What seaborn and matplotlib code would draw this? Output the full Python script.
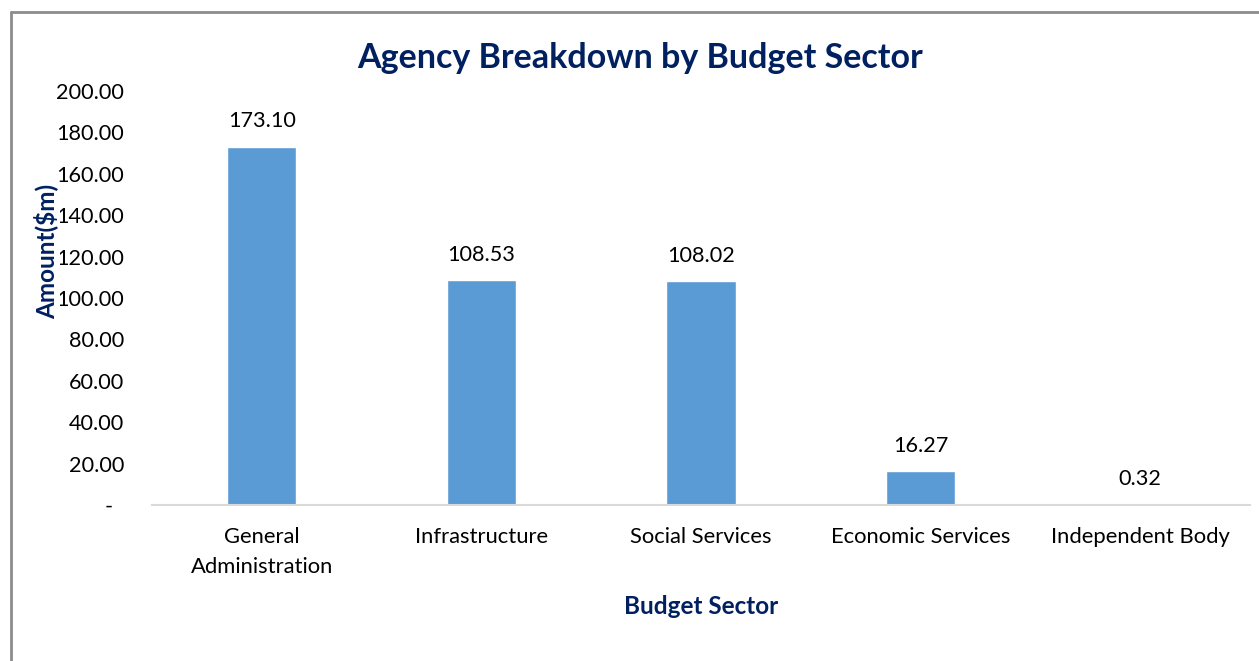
import matplotlib
matplotlib.use("Agg")
import matplotlib.pyplot as plt
import seaborn as sns
import pandas as pd
from matplotlib.ticker import FuncFormatter, MultipleLocator
from matplotlib.lines import Line2D

categories = ["General\nAdministration", "Infrastructure", "Social Services",
              "Economic Services", "Independent Body"]
values = [173.10, 108.53, 108.02, 16.27, 0.32]
title = "Agency Breakdown by Budget Sector"
xlabel = "Budget Sector"
ylabel = "Amount($m)"

sns.set_theme(style="white")
plt.rcParams["font.family"] = ["Lato", "DejaVu Sans"]

df = pd.DataFrame({"sector": categories, "amount": values})

fig = plt.figure(figsize=(12.59, 6.61), dpi=100)
ax = fig.add_axes([0.1207, 0.236, 0.8722, 0.6264])

sns.barplot(data=df, x="sector", y="amount", color="#5B9BD5", width=0.315,
            saturation=1, ax=ax)

ax.set_ylim(0, 200)
ax.set_xlim(-0.5, len(categories) - 0.5)
ax.yaxis.set_major_locator(MultipleLocator(20))
ax.yaxis.set_major_formatter(FuncFormatter(lambda v, p: "-  " if abs(v) < 1e-9 else f"{v:.2f}"))
ax.tick_params(axis="y", labelsize=15.6, length=0, pad=20, colors="#000000")
ax.tick_params(axis="x", labelsize=15.8, length=0, pad=16, colors="#000000")
for s in ["top", "right", "left"]:
    ax.spines[s].set_visible(False)
ax.spines["bottom"].set_color("#D9D9D9")
ax.spines["bottom"].set_linewidth(1.5)

for i, v in enumerate(values):
    ax.annotate(f"{v:.2f}", (i, v), xytext=(0, 11), textcoords="offset points",
                ha="center", va="bottom", fontsize=15.6, color="#000000")

ax.set_xlabel(xlabel, fontsize=17.5, fontweight="bold", color="#002060", labelpad=13)
ax.set_ylabel("")
fig.text(0.0365, 0.62, ylabel, rotation=90, ha="center", va="center", fontsize=17.5,
         fontweight="bold", color="#002060",
         bbox=dict(facecolor="white", edgecolor="none", pad=1))
fig.text(0.508, 0.913, title, ha="center", va="center", fontsize=24.5,
         fontweight="bold", color="#002060")

fig.add_artist(Line2D([11/1259, 11/1259], [0, 1 - 12/661], transform=fig.transFigure,
                      color="#8C8C8C", lw=2))
fig.add_artist(Line2D([11/1259, 1], [1 - 12/661, 1 - 12/661], transform=fig.transFigure,
                      color="#8C8C8C", lw=2))

fig.canvas.draw()
for lbl in ax.get_xticklabels():
    lbl.set_linespacing(1.6)

fig.savefig("out.png", dpi=100)
